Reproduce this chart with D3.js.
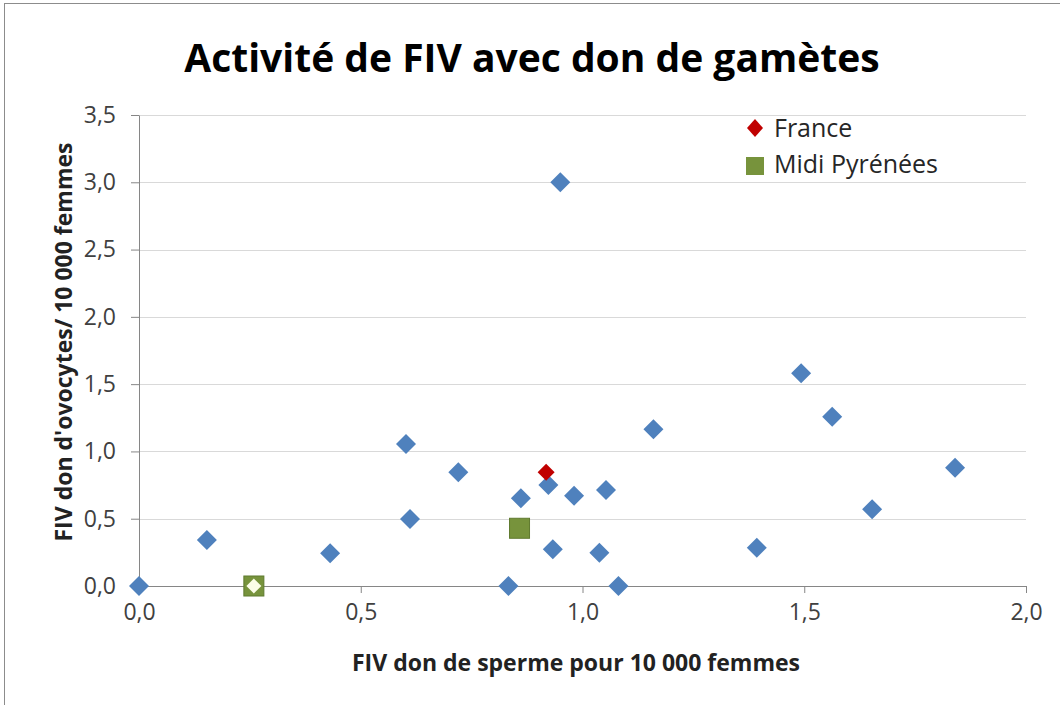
<!DOCTYPE html>
<html>
<head>
<meta charset="utf-8">
<script src="https://cdn.jsdelivr.net/npm/d3@7"></script>
<style>
  body { margin: 0; background: #fff; }
  svg text { font-family: "Open Sans", "Noto Sans", sans-serif; }
</style>
</head>
<body>
<svg id="chart" width="1060" height="705"></svg>
<script>
// Regions (blue diamonds)
var regionX = [0.00, 0.153, 0.259, 0.431, 0.602, 0.611, 0.720, 0.833, 0.861, 0.858, 0.923, 0.933, 0.950, 0.981, 1.053, 1.038, 1.081, 1.160, 1.393, 1.493, 1.563, 1.653, 1.840];
var regionY = [0.00, 0.342, 0.00, 0.243, 1.055, 0.498, 0.845, 0.00, 0.652, 0.429, 0.751, 0.273, 3.00, 0.671, 0.713, 0.247, 0.00, 1.164, 0.284, 1.581, 1.258, 0.570, 0.879];
// France
var franceX = [0.918];
var franceY = [0.845];
// Midi Pyrénées
var midiX = [0.259, 0.858];
var midiY = [0.00, 0.429];
// white marker on top of the first Midi Pyrénées square
var markX = [0.259];
var markY = [0.00];

var xTicks = [0, 0.5, 1, 1.5, 2];
var yTicks = [0, 0.5, 1, 1.5, 2, 2.5, 3, 3.5];
var legendLabels = ["France", "Midi Pyrénées"];

var svg = d3.select("#chart");
var margin = {left: 139, top: 115, right: 1060 - 1026, bottom: 705 - 586};
var width = 1060 - margin.left - margin.right,
    height = 705 - margin.top - margin.bottom;

// outer chart border
svg.append("rect")
  .attr("x", 4.5).attr("y", 3.5)
  .attr("width", 1070).attr("height", 720)
  .attr("fill", "#fff")
  .attr("stroke", "#8c8c8c");

var x = d3.scaleLinear().domain([0, 2]).range([0, width]);
var y = d3.scaleLinear().domain([0, 3.5]).range([height, 0]);
var fmt = function(d) { return d3.format(".1f")(d).replace(".", ","); };

var g = svg.append("g")
  .attr("transform", "translate(" + margin.left + "," + margin.top + ")");

// horizontal gridlines
g.selectAll(".grid").data(yTicks.slice(1))
  .enter().append("line")
    .attr("class", "grid")
    .attr("x1", 0).attr("x2", width)
    .attr("y1", function(d) {return Math.round(y(d)) + 0.5;})
    .attr("y2", function(d) {return Math.round(y(d)) + 0.5;})
    .attr("stroke", "#d9d9d9");

// y axis
g.append("g")
  .attr("class", "axis axis--y")
  .call(d3.axisLeft(y).tickValues(yTicks).tickFormat(fmt).tickSizeInner(8).tickSizeOuter(0).tickPadding(15));

// x axis
g.append("g")
  .attr("class", "axis axis--x")
  .attr("transform", "translate(0," + height + ")")
  .call(d3.axisBottom(x).tickValues(xTicks).tickFormat(fmt).tickSizeInner(7).tickSizeOuter(0).tickPadding(11));

g.selectAll(".axis path, .axis line").attr("stroke", "#868686");
g.selectAll(".axis text")
  .style("font-size", "23px")
  .attr("fill", "#404040");

function drawDiamonds(xs, ys, half, fill, cls) {
  g.selectAll("." + cls).data(xs)
    .enter().append("path")
      .attr("class", cls)
      .attr("d", "M0," + (-half) + "L" + half + ",0L0," + half + "L" + (-half) + ",0Z")
      .attr("transform", function(d, i) {return "translate(" + x(d) + "," + y(ys[i]) + ")";})
      .attr("fill", fill);
}

drawDiamonds(regionX, regionY, 10, "#4f81bd", "region");

g.selectAll(".midi").data(midiX)
  .enter().append("rect")
    .attr("class", "midi")
    .attr("x", function(d) {return x(d) - 10;})
    .attr("y", function(d, i) {return y(midiY[i]) - 10;})
    .attr("width", 20).attr("height", 20)
    .attr("fill", "#77933c")
    .attr("stroke", "#5f7a2e");

drawDiamonds(markX, markY, 7.5, "#fbfde8", "mark");
drawDiamonds(franceX, franceY, 8.5, "#c00000", "france");

// legend
var legend = svg.append("g").attr("transform", "translate(755,128)");
legend.append("path")
  .attr("d", "M0,-9L8,0L0,9L-8,0Z")
  .attr("fill", "#c00000");
legend.append("rect")
  .attr("x", -9).attr("y", 29).attr("width", 18).attr("height", 18)
  .attr("fill", "#77933c");
legend.selectAll("text").data(legendLabels)
  .enter().append("text")
    .attr("x", 19)
    .attr("y", function(d, i) {return 9 + i * 36;})
    .style("font-size", "25px")
    .attr("fill", "#262626")
    .text(function(d) {return d;});

// titles
svg.append("text")
  .attr("x", 532).attr("y", 72)
  .attr("text-anchor", "middle")
  .style("font-size", "39px")
  .style("font-weight", "bold")
  .text("Activité de FIV avec don de gamètes");

svg.append("text")
  .attr("x", 576).attr("y", 671)
  .attr("text-anchor", "middle")
  .style("font-size", "23px")
  .style("font-weight", "bold")
  .attr("fill", "#222")
  .text("FIV don de sperme pour 10 000 femmes");

svg.append("text")
  .attr("transform", "translate(72,342) rotate(-90)")
  .attr("text-anchor", "middle")
  .style("font-size", "23px")
  .style("font-weight", "bold")
  .attr("fill", "#222")
  .text("FIV don d'ovocytes/ 10 000 femmes");
</script>
</body>
</html>
